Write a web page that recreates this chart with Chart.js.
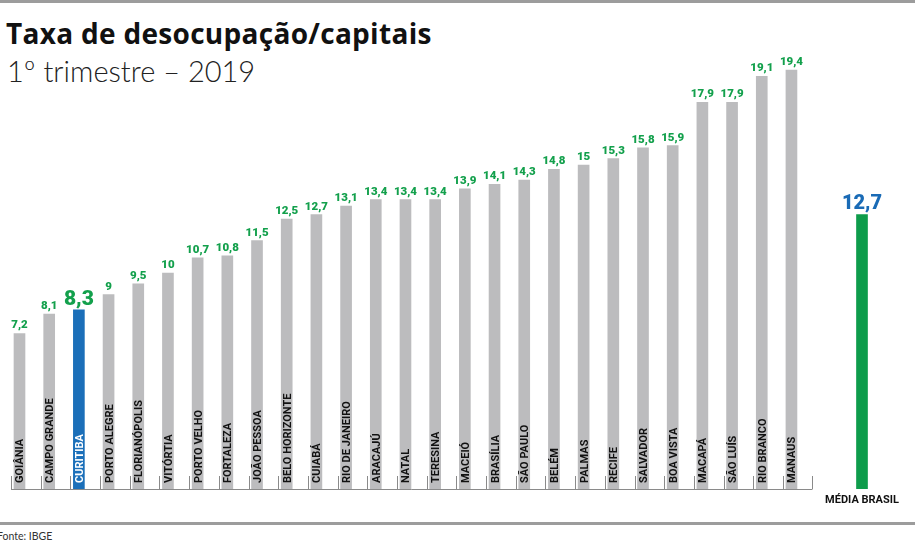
<!DOCTYPE html>
<html>
<head>
<meta charset="utf-8">
<script src="https://cdn.jsdelivr.net/npm/chart.js@4"></script>
<style>
  html, body { margin:0; padding:0; background:#fff; }
  #wrap { position:relative; width:915px; height:555px; overflow:hidden; background:#fff; }
  .line { position:absolute; left:0; width:915px; background:#9c9c9c; }
  #title { position:absolute; left:6px; top:16px; font-family:"Open Sans", sans-serif; font-weight:700; font-size:28px; line-height:34px; color:#111; white-space:nowrap; letter-spacing:0.3px; }
  #sub { position:absolute; left:7px; top:56px; font-family:Lato, sans-serif; font-weight:300; font-size:29px; line-height:29px; color:#222; white-space:nowrap; }
  #src { position:absolute; left:-3px; top:530px; font-family:Lato, sans-serif; font-size:10.5px; line-height:12px; color:#333; }
  #c1 { position:absolute; left:0; top:0; }
  #c2 { position:absolute; left:790px; top:0; }
</style>
</head>
<body>
<div id="wrap">
  <div class="line" style="top:0;height:3px;"></div>
  <div id="title">Taxa de desocupação/capitais</div>
  <div id="sub">1º trimestre – 2019</div>
  <canvas id="c1" width="830" height="520"></canvas>
  <canvas id="c2" width="125" height="520"></canvas>
  <div class="line" style="top:522px;height:3px;"></div>
  <div id="src">Fonte: IBGE</div>
</div>
<script>
// ---- data ----
const cities = ['GOIÂNIA','CAMPO GRANDE','CURITIBA','PORTO ALEGRE','FLORIANÓPOLIS','VITÓRTIA','PORTO VELHO','FORTALEZA','JOÃO PESSOA','BELO HORIZONTE','CUIABÁ','RIO DE JANEIRO','ARACAJÚ','NATAL','TERESINA','MACEIÓ','BRASÍLIA','SÃO PAULO','BELÉM','PALMAS','RECIFE','SALVADOR','BOA VISTA','MACAPÁ','SÃO LUÍS','RIO BRANCO','MANAUS'];
const rates = [7.2, 8.1, 8.3, 9, 9.5, 10, 10.7, 10.8, 11.5, 12.5, 12.7, 13.1, 13.4, 13.4, 13.4, 13.9, 14.1, 14.3, 14.8, 15, 15.3, 15.8, 15.9, 17.9, 17.9, 19.1, 19.4];
const highlightCity = 'CURITIBA';
const avgLabel = ['MÉDIA BRASIL'];
const avgValue = [12.7];

const GRAY = '#bcbcbe', BLUE = '#1b6fb9', GREEN_BAR = '#0e9c4b', GREEN_TXT = '#13a04c', BLUE_TXT = '#1a6bb6';
const fmt = v => String(v).replace('.', ',');
const Y_MIN = 0, Y_MAX = 22;

const barLabels1 = {
  id: 'barLabels1',
  afterDatasetsDraw(chart) {
    const ctx = chart.ctx;
    const meta = chart.getDatasetMeta(0);
    const yBase = chart.scales.y.getPixelForValue(0);
    ctx.save();
    // axis line + ticks
    ctx.strokeStyle = '#8a8a8a';
    ctx.lineWidth = 1;
    const first = meta.data[0].x - 8.5, last = meta.data[meta.data.length - 1].x + 21;
    ctx.beginPath();
    ctx.moveTo(first, yBase + 0.5); ctx.lineTo(last, yBase + 0.5);
    meta.data.forEach(b => { const tx = Math.round(b.x - 8.5) + 0.5; ctx.moveTo(tx, yBase); ctx.lineTo(tx, yBase - 13); });
    ctx.moveTo(Math.round(last) + 0.5, yBase); ctx.lineTo(Math.round(last) + 0.5, yBase - 13);
    ctx.stroke();
    meta.data.forEach((b, i) => {
      const isHi = cities[i] === highlightCity;
      // value label
      ctx.fillStyle = GREEN_TXT;
      ctx.textAlign = 'center';
      ctx.textBaseline = 'alphabetic';
      ctx.font = isHi ? '900 21px Roboto, sans-serif' : '900 11.5px Roboto, sans-serif';
      ctx.fillText(fmt(rates[i]), b.x, b.y - 5);
      // vertical city label
      ctx.save();
      ctx.translate(b.x, yBase - 6);
      ctx.rotate(-Math.PI / 2);
      ctx.textAlign = 'left';
      ctx.font = '700 11px Roboto, sans-serif';
      ctx.fillStyle = isHi ? '#ffffff' : '#111111';
      ctx.fillText(cities[i], 0, 4);
      ctx.restore();
    });
    ctx.restore();
  }
};

const barLabels2 = {
  id: 'barLabels2',
  afterDatasetsDraw(chart) {
    const ctx = chart.ctx;
    const meta = chart.getDatasetMeta(0);
    const yBase = chart.scales.y.getPixelForValue(0);
    ctx.save();
    meta.data.forEach((b, i) => {
      ctx.fillStyle = BLUE_TXT;
      ctx.textAlign = 'center';
      ctx.textBaseline = 'alphabetic';
      ctx.font = '900 20px Roboto, sans-serif';
      ctx.fillText(fmt(avgValue[i]), b.x, b.y - 6);
      ctx.fillStyle = '#111';
      ctx.font = '700 11px Roboto, sans-serif';
      ctx.fillText(avgLabel[i], b.x, yBase + 14);
    });
    ctx.restore();
  }
};

const commonScales = {
  x: { display: false, offset: true },
  y: { display: false, min: Y_MIN, max: Y_MAX }
};

new Chart(document.getElementById('c1'), {
  type: 'bar',
  data: {
    labels: cities,
    datasets: [{
      data: rates,
      backgroundColor: cities.map(c => c === highlightCity ? BLUE : GRAY),
      barThickness: 11,
      borderWidth: 0
    }]
  },
  options: {
    responsive: false,
    animation: false,
    layout: { padding: { left: 4.65, right: 830 - 806.3, top: 13.8, bottom: 31 } },
    plugins: { legend: { display: false }, tooltip: { enabled: false } },
    scales: commonScales
  },
  plugins: [barLabels1]
});

new Chart(document.getElementById('c2'), {
  type: 'bar',
  data: {
    labels: avgLabel,
    datasets: [{ data: avgValue, backgroundColor: GREEN_BAR, barThickness: 11, borderWidth: 0 }]
  },
  options: {
    responsive: false,
    animation: false,
    layout: { padding: { left: 57, right: 38, top: 13.8, bottom: 31 } },
    plugins: { legend: { display: false }, tooltip: { enabled: false } },
    scales: commonScales
  },
  plugins: [barLabels2]
});
</script>
</body>
</html>
